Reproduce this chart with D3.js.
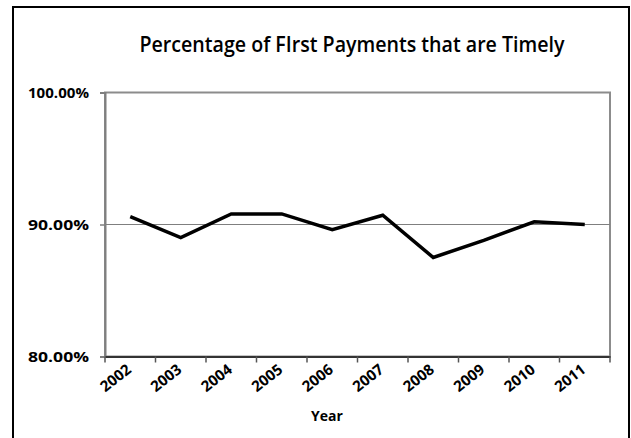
<!DOCTYPE html>
<html>
<head>
<meta charset="utf-8">
<script src="https://cdn.jsdelivr.net/npm/d3@7"></script>
<style>
  html, body { margin: 0; padding: 0; background: #fff; }
  svg { display: block; }
</style>
</head>
<body>
<svg id="chart" width="631" height="438"></svg>
<script>
// Share of first payments made on time, by year
const years = ["2002", "2003", "2004", "2005", "2006", "2007", "2008", "2009", "2010", "2011"];
const timelyShare = [0.906, 0.890, 0.908, 0.908, 0.896, 0.907, 0.875, 0.888, 0.902, 0.900];
const yTicks = [0.80, 0.90, 1.00];

const svg = d3.select("#chart");
const font = "'Open Sans', 'DejaVu Sans', sans-serif";

// chart frame
svg.append("rect")
  .attr("x", 13).attr("y", 7)
  .attr("width", 616).attr("height", 460)
  .attr("fill", "#fff").attr("stroke", "#000").attr("stroke-width", 2);

const plot = { left: 105, right: 610, top: 92.5, bottom: 356.5 };

const x = d3.scaleBand().domain(years).range([plot.left, plot.right]);
const y = d3.scaleLinear().domain([0.80, 1.00]).range([plot.bottom, plot.top]);

// title
svg.append("text")
  .attr("x", 352).attr("y", 52)
  .attr("text-anchor", "middle")
  .attr("font-family", font).attr("font-size", 21).attr("font-weight", 600)
  .attr("fill", "#000")
  .attr("textLength", 425).attr("lengthAdjust", "spacingAndGlyphs")
  .text("Percentage of FIrst Payments that are Timely");

// plot area outline
svg.append("rect")
  .attr("x", plot.left).attr("y", plot.top)
  .attr("width", plot.right - plot.left).attr("height", plot.bottom - plot.top)
  .attr("fill", "none").attr("stroke", "#8c8c8c").attr("stroke-width", 2);

// horizontal gridlines
svg.append("g")
  .selectAll("line")
  .data(yTicks.filter(t => t > 0.80 && t < 1.00))
  .join("line")
  .attr("x1", plot.left).attr("x2", plot.right)
  .attr("y1", d => y(d)).attr("y2", d => y(d))
  .attr("stroke", "#7f7f7f").attr("stroke-width", 1.2);

// y axis
const yAxis = svg.append("g")
  .attr("transform", `translate(${plot.left},0)`)
  .call(d3.axisLeft(y).tickValues(yTicks).tickFormat(d3.format(".2%")).tickSize(5).tickPadding(11));
yAxis.select(".domain").attr("stroke", "#7f7f7f").attr("stroke-width", 2);
yAxis.selectAll(".tick line").attr("stroke", "#7f7f7f").attr("stroke-width", 1.5);
yAxis.selectAll(".tick text")
  .attr("font-family", font).attr("font-size", 15).attr("font-weight", 700).attr("fill", "#000")
  .attr("textLength", 61).attr("lengthAdjust", "spacingAndGlyphs");

// x axis
const xAxis = svg.append("g")
  .attr("transform", `translate(0,${plot.bottom})`)
  .call(d3.axisBottom(x).tickSize(0).tickPadding(0));
xAxis.select(".domain").attr("stroke", "#333").attr("stroke-width", 2);
xAxis.selectAll(".tick text")
  .attr("font-family", font).attr("font-size", 15).attr("font-weight", 700).attr("fill", "#000")
  .attr("text-anchor", "end")
  .attr("dy", 0)
  .attr("transform", "translate(2,15) rotate(-38)");

// boundary tick marks between categories
const bounds = years.map(d => x(d)).concat([plot.right]);
svg.append("g")
  .selectAll("line")
  .data(bounds)
  .join("line")
  .attr("x1", d => d).attr("x2", d => d)
  .attr("y1", plot.bottom).attr("y2", plot.bottom + 6)
  .attr("stroke", "#555").attr("stroke-width", 1.5);

// axis title
svg.append("text")
  .attr("x", 327).attr("y", 421)
  .attr("text-anchor", "middle")
  .attr("font-family", font).attr("font-size", 14).attr("font-weight", 700)
  .text("Year");

// data line
const line = d3.line()
  .x((d, i) => x(years[i]) + x.bandwidth() / 2)
  .y(d => y(d));

svg.append("path")
  .datum(timelyShare)
  .attr("d", line)
  .attr("fill", "none")
  .attr("stroke", "#000")
  .attr("stroke-width", 3.5)
  .attr("stroke-linejoin", "miter");
</script>
</body>
</html>
